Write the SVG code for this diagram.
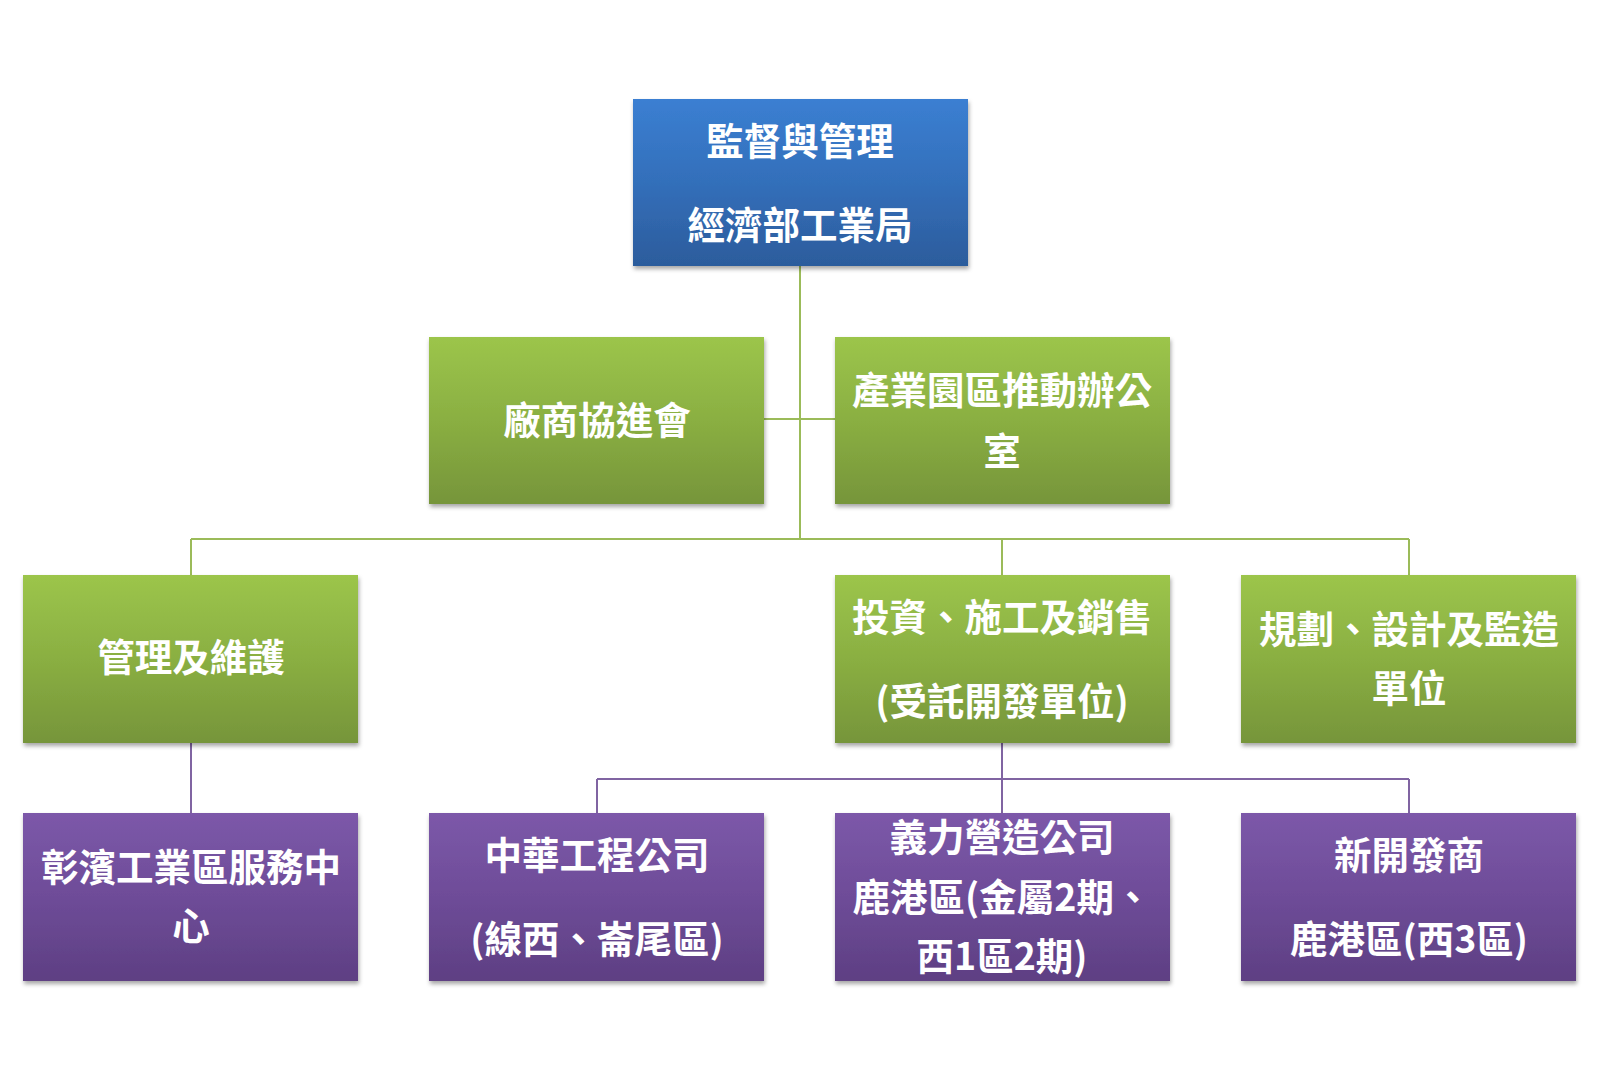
<svg xmlns="http://www.w3.org/2000/svg" width="1600" height="1080" viewBox="0 0 1600 1080">
<defs>
<linearGradient id="gBlue" x1="0" y1="0" x2="0" y2="1">
<stop offset="0" stop-color="#3B7FD2"/><stop offset="0.5" stop-color="#336FBA"/><stop offset="1" stop-color="#2C5C9C"/>
</linearGradient>
<linearGradient id="gGreen" x1="0" y1="0" x2="0" y2="1">
<stop offset="0" stop-color="#9CC54B"/><stop offset="0.5" stop-color="#8AAF42"/><stop offset="1" stop-color="#76953A"/>
</linearGradient>
<linearGradient id="gPurple" x1="0" y1="0" x2="0" y2="1">
<stop offset="0" stop-color="#7C58A9"/><stop offset="0.5" stop-color="#6E4C98"/><stop offset="1" stop-color="#5E3F83"/>
</linearGradient>
<filter id="sh" x="-5%" y="-5%" width="112%" height="115%">
<feDropShadow dx="1" dy="3" stdDeviation="2" flood-color="#000" flood-opacity="0.35"/>
</filter>
</defs>
<style>
text{font-family:"Noto Sans CJK TC","Noto Sans CJK SC",sans-serif;font-weight:bold;font-size:37.5px;fill:#fff;text-anchor:middle}
.gl{stroke:#9BBB59;stroke-width:2;fill:none}
.pl{stroke:#8064A2;stroke-width:2;fill:none}
</style>
<rect width="1600" height="1080" fill="#fff"/>
<g id="connectors">
<path class="gl" d="M800 266V539M764 419H835M191 539H1409M191 539V575M1002 539V575M1409 539V575"/>
<path class="pl" d="M191 743V813M1002 743V813M597 779H1409M597 779V813M1409 779V813"/>
</g>
<g id="n-top"><rect x="633" y="99" width="335" height="167" fill="url(#gBlue)" filter="url(#sh)"/><text x="800" y="155">監督與管理</text><text x="800" y="239">經濟部工業局</text></g>
<g id="n-assoc"><rect x="429" y="337" width="335" height="167" fill="url(#gGreen)" filter="url(#sh)"/><text x="597" y="434">廠商協進會</text></g>
<g id="n-office"><rect x="835" y="337" width="335" height="167" fill="url(#gGreen)" filter="url(#sh)"/><text x="1002" y="404">產業園區推動辦公</text><text x="1002" y="465">室</text></g>
<g id="n-maint"><rect x="23" y="575" width="335" height="168" fill="url(#gGreen)" filter="url(#sh)"/><text x="191" y="671">管理及維護</text></g>
<g id="n-invest"><rect x="835" y="575" width="335" height="168" fill="url(#gGreen)" filter="url(#sh)"/><text x="1002" y="631">投資、施工及銷售</text><text x="1002" y="715">(受託開發單位)</text></g>
<g id="n-plan"><rect x="1241" y="575" width="335" height="168" fill="url(#gGreen)" filter="url(#sh)"/><text x="1409" y="643">規劃、設計及監造</text><text x="1409" y="702">單位</text></g>
<g id="n-service"><rect x="23" y="813" width="335" height="168" fill="url(#gPurple)" filter="url(#sh)"/><text x="191" y="881">彰濱工業區服務中</text><text x="191" y="940">心</text></g>
<g id="n-ctci"><rect x="429" y="813" width="335" height="168" fill="url(#gPurple)" filter="url(#sh)"/><text x="597" y="869">中華工程公司</text><text x="597" y="953">(線西、崙尾區)</text></g>
<g id="n-yili"><rect x="835" y="813" width="335" height="168" fill="url(#gPurple)" filter="url(#sh)"/><text x="1002" y="851">義力營造公司</text><text x="1002" y="911">鹿港區(金屬2期、</text><text x="1002" y="970">西1區2期)</text></g>
<g id="n-new"><rect x="1241" y="813" width="335" height="168" fill="url(#gPurple)" filter="url(#sh)"/><text x="1409" y="869">新開發商</text><text x="1409" y="953">鹿港區(西3區)</text></g>
</svg>
